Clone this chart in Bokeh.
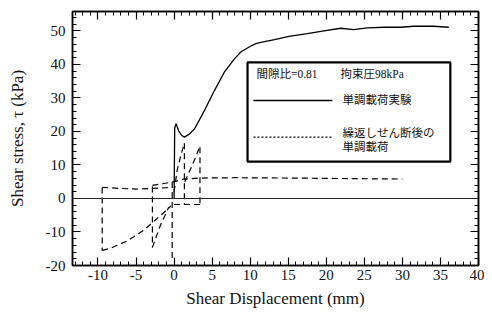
from bokeh.plotting import figure
from bokeh.models import (LinearAxis, SingleIntervalTicker, Span, BoxAnnotation,
                          Label, Arrow, Range1d, PrintfTickFormatter, CustomJSTickFormatter)
from bokeh.embed import file_html
from bokeh.resources import INLINE

# ---- data ----
mono_x = [0.0, 0.08, 0.26, 0.6, 1.0, 1.35, 2.0, 2.7, 4.0, 5.3, 6.6, 7.9, 8.8, 10.1,
          10.75, 11.4, 13.2, 15.1, 17.5, 19.7, 21.9, 23.6, 25.4, 27.6, 29.8, 31.5, 34.1, 36.1]
mono_y = [0.0, 21.0, 22.3, 20.2, 18.8, 18.3, 19.2, 20.8, 26.3, 32.2, 37.7, 41.6, 43.8, 45.5,
          46.2, 46.6, 47.4, 48.4, 49.2, 50.0, 50.8, 50.4, 50.9, 51.1, 51.1, 51.4, 51.4, 51.1]

cyc_xs = [
    [0.0, 0.4, 0.9, 1.35],
    [1.35, 1.35],
    [0.0, 3.45],
    [1.4, 2.4, 3.35],
    [3.4, 3.4],
    [-0.25, -0.25],
    [-2.85, -1.8, -0.7],
    [-2.85, -2.85],
    [-9.45, -8.3, -6.0, -4.0, -2.5, -1.0, -0.4],
    [-9.45, -9.45],
    [-9.45, -7.0, -5.0, -3.0, -1.0, -0.25],
    [-2.85, -1.5, -0.25],
    [-0.25, 1.3, 3.5, 8.0, 15.0, 20.0, 30.0],
]
cyc_ys = [
    [2.0, 8.4, 13.0, 16.5],
    [16.5, -1.8],
    [-1.8, -1.8],
    [5.0, 10.0, 15.3],
    [15.3, -1.8],
    [4.9, -18.5],
    [-14.6, -8.0, -2.6],
    [3.6, -14.6],
    [-15.5, -14.8, -12.5, -9.5, -6.5, -3.5, -2.2],
    [3.3, -15.5],
    [3.3, 3.0, 2.8, 3.0, 3.2, 3.5],
    [3.9, 4.4, 4.9],
    [4.9, 5.8, 6.1, 6.2, 6.1, 6.0, 5.8],
]

x_range = (-13.35, 40.0)
y_range = (-20.0, 55.8)
x_major = 5
y_major = 10

SERIF = "Liberation Serif"
MIXED = "'Liberation Serif', 'Noto Sans CJK JP'"

p = figure(width=484, height=322, output_backend="svg", toolbar_location=None,
           x_range=Range1d(*x_range), y_range=Range1d(*y_range),
           min_border_left=72, min_border_right=6, min_border_top=11, min_border_bottom=57)
p.background_fill_color = "white"
p.border_fill_color = "white"
p.outline_line_color = "black"
p.outline_line_width = 1.6
p.grid.visible = False

p.xaxis.ticker = SingleIntervalTicker(interval=x_major, num_minor_ticks=5)
p.yaxis.ticker = SingleIntervalTicker(interval=y_major, num_minor_ticks=5)


def style_axis(ax, labels=True):
    ax.major_tick_in = 8
    ax.major_tick_out = 0
    ax.minor_tick_in = 4
    ax.minor_tick_out = 0
    ax.major_tick_line_color = "black"
    ax.minor_tick_line_color = "black"
    ax.major_tick_line_width = 1.2
    ax.minor_tick_line_width = 1
    ax.axis_line_color = "black"
    ax.axis_line_width = 1.4
    if labels:
        ax.formatter = PrintfTickFormatter(format="%d")
        ax.major_label_text_font = SERIF
        ax.major_label_text_font_size = "15px"
        ax.major_label_text_color = "#111111"
        ax.axis_label_text_font = SERIF
        ax.axis_label_text_font_size = "17px"
        ax.axis_label_text_font_style = "normal"
        ax.axis_label_text_color = "#111111"
    else:
        ax.formatter = CustomJSTickFormatter(code="return ''")
        ax.major_label_standoff = 0
        ax.axis_label = None


for ax in p.xaxis:
    style_axis(ax)
    ax.major_label_standoff = 4
    ax.axis_label = "Shear Displacement (mm)"
    ax.axis_label_standoff = 6
for ax in p.yaxis:
    style_axis(ax)
    ax.major_label_standoff = 7
    ax.axis_label = "Shear stress, τ (kPa)"
    ax.axis_label_standoff = 16

top_ax = LinearAxis(ticker=SingleIntervalTicker(interval=x_major, num_minor_ticks=5))
right_ax = LinearAxis(ticker=SingleIntervalTicker(interval=y_major, num_minor_ticks=5))
style_axis(top_ax, labels=False)
style_axis(right_ax, labels=False)
p.add_layout(top_ax, "above")
p.add_layout(right_ax, "right")

# zero line
p.add_layout(Span(location=0, dimension="width", line_color="#222222", line_width=1.1))

# data
p.multi_line(xs=cyc_xs, ys=cyc_ys, line_color="black", line_width=1.2, line_dash="6 4")
p.line(mono_x, mono_y, line_color="black", line_width=1.3)

# legend box (annotation)
p.add_layout(BoxAnnotation(left=9.65, right=36.3, top=40.6, bottom=11.0,
                           fill_color="white", fill_alpha=1.0,
                           line_color="black", line_width=2.2, line_alpha=1.0))


def lab(x, y, t, size="11.5px"):
    p.add_layout(Label(x=x, y=y, text=t, text_font=MIXED, text_font_size=size,
                       text_baseline="middle", text_align="left", text_color="#111111"))


lab(10.83, 37.2, "間隙比=0.81")
lab(21.87, 37.2, "拘束圧98kPa")
lab(22.13, 29.25, "単調載荷実験")
lab(22.13, 19.6, "繰返しせん断後の")
lab(22.13, 15.3, "単調載荷")
p.add_layout(Arrow(end=None, x_start=10.43, y_start=29.25, x_end=20.8, y_end=29.25,
                   line_color="black", line_width=1.4))
p.add_layout(Arrow(end=None, x_start=10.43, y_start=18.3, x_end=20.8, y_end=18.3,
                   line_color="black", line_width=1.4, line_dash="2 2"))

open("out.html", "w").write(file_html(p, INLINE))
